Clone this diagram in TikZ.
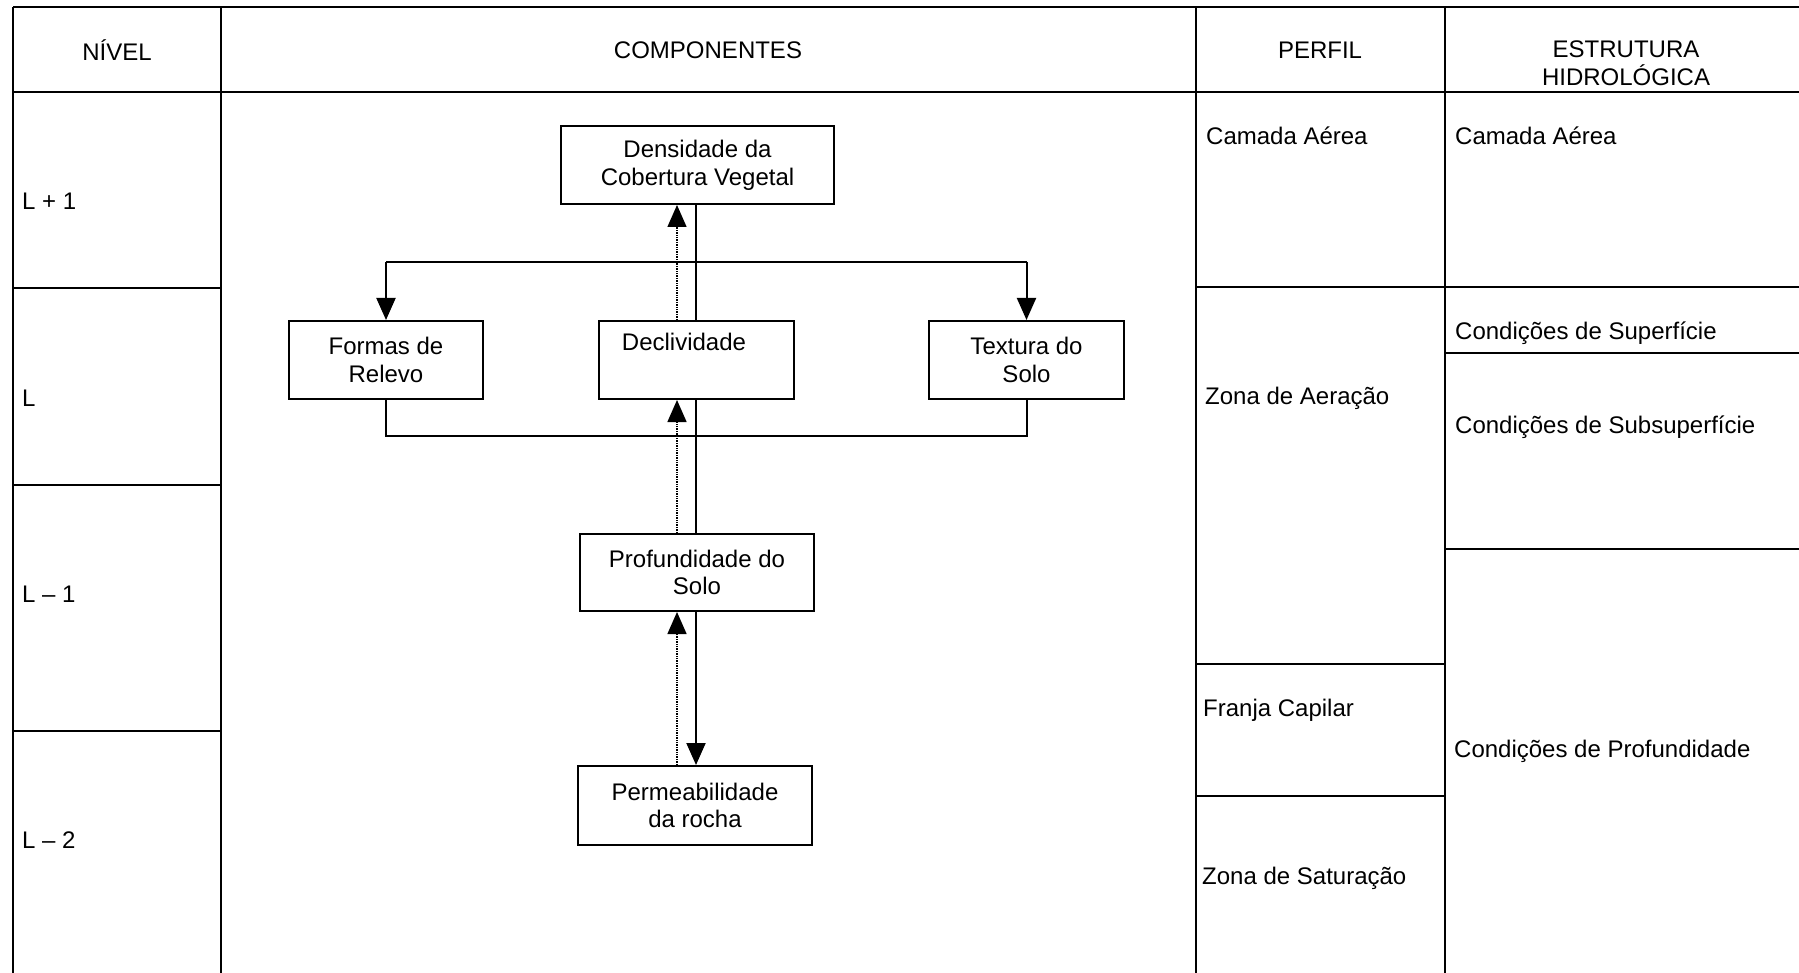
\documentclass[tikz,border=0pt]{standalone}
\usepackage{fontspec}
\setmainfont{Liberation Sans}
\usetikzlibrary{arrows.meta}
\newcommand{\fs}{\fontsize{24}{27.6}\selectfont}
\begin{document}
\begin{tikzpicture}[x=1pt,y=-1pt,
  grid/.style={line width=1.8pt},
  box/.style={draw, line width=2pt, align=center, inner sep=0pt, font=\fs},
  lbl/.style={anchor=west, inner sep=0pt, font=\fs},
  head/.style={inner sep=0pt, align=center, font=\fs},
  conn/.style={line width=2pt},
  fb/.style={line width=1.4pt, densely dotted},
  tip/.style={-{Triangle[length=22pt,width=19pt]}}
]
\fill[white] (0,0) rectangle (1799,973);
\useasboundingbox (0,0) rectangle (1799,973);

% table grid
\draw[grid] (13,7) -- (1799,7);
\draw[grid] (13,92) -- (1799,92);
\draw[grid] (13,7) -- (13,973);
\draw[grid] (221,7) -- (221,973);
\draw[grid] (1196,7) -- (1196,973);
\draw[grid] (1445,7) -- (1445,973);
\draw[grid] (13,288) -- (221,288);
\draw[grid] (13,485) -- (221,485);
\draw[grid] (13,731) -- (221,731);
\draw[grid] (1196,287) -- (1445,287);
\draw[grid] (1196,664) -- (1445,664);
\draw[grid] (1196,796) -- (1445,796);
\draw[grid] (1445,287) -- (1799,287);
\draw[grid] (1445,353) -- (1799,353);
\draw[grid] (1445,549) -- (1799,549);

% headers
\node[head] (hniv) at (117,50) {NÍVEL};
\node[head] (hcomp) at (708,50) {COMPONENTES};
\node[head] (hperf) at (1320,50) {PERFIL};
\node[head] (hestr) at (1626,63) {ESTRUTURA\\HIDROLÓGICA};

% level labels
\node[lbl] (l1) at (22,201) {L + 1};
\node[lbl] (l0) at (22,398) {L};
\node[lbl] (lm1) at (22,594) {L – 1};
\node[lbl] (lm2) at (22,840) {L – 2};

% perfil
\node[lbl] (p1) at (1206,136) {Camada Aérea};
\node[lbl] (p2) at (1205,398) {Zona de Aeração};
\node[lbl] (p3) at (1203,710) {Franja Capilar};
\node[lbl] (p4) at (1202,878) {Zona de Saturação};

% estrutura hidrologica
\node[lbl] (e1) at (1455,136) {Camada Aérea};
\node[lbl] (e2) at (1455,333) {Condições de Superfície};
\node[lbl] (e3) at (1455,427) {Condições de Subsuperfície};
\node[lbl] (e4) at (1454,751) {Condições de Profundidade};

% component boxes
\node[box, minimum width=273pt, minimum height=78pt] (dens) at (697.5,165) {Densidade da\\Cobertura Vegetal};
\node[box, minimum width=194pt, minimum height=78pt] (form) at (386,360) {Formas de\\Relevo};
\node[box, minimum width=195pt, minimum height=78pt] (decl) at (696.5,360) {Declividade\hspace*{25pt}\\\strut};
\node[box, minimum width=195pt, minimum height=78pt] (txt) at (1026.5,360) {Textura do\\Solo};
\node[box, minimum width=234pt, minimum height=77pt] (prof) at (697,572.5) {Profundidade do\\Solo};
\node[box, minimum width=234pt, minimum height=79pt] (perm) at (695,805.5) {Permeabilidade\\da rocha};

% connectors
\coordinate (sx) at (696,0);
\coordinate (dx) at (677,0);
\coordinate (bt) at (0,262);
\coordinate (bb) at (0,436);

\draw[conn] (dens.south -| sx) -- (decl.north -| sx);
\draw[fb,tip] (decl.north -| dx) -- (dens.south -| dx);
\draw[conn] (decl.south -| sx) -- (prof.north -| sx);
\draw[fb,tip] (prof.north -| dx) -- (decl.south -| dx);
\draw[conn,tip] (prof.south -| sx) -- (perm.north -| sx);
\draw[fb,tip] (perm.north -| dx) -- (prof.south -| dx);

\draw[conn] (form.north |- bt) -- (txt.north |- bt);
\draw[conn,tip] (form.north |- bt) -- (form.north);
\draw[conn,tip] (txt.north |- bt) -- (txt.north);
\draw[conn] (form.south) -- (form.south |- bb) -- (txt.south |- bb) -- (txt.south);
\end{tikzpicture}
\end{document}
